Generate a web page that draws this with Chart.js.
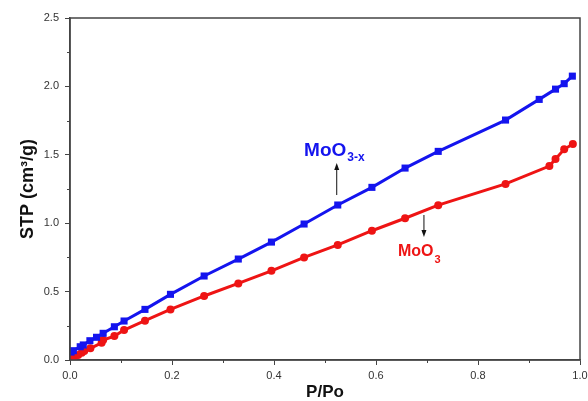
<!DOCTYPE html>
<html>
<head>
<meta charset="utf-8">
<script src="https://cdn.jsdelivr.net/npm/chart.js@4"></script>
<style>
  html, body { margin: 0; padding: 0; background: #fff; }
  #wrap { width: 588px; height: 401px; }
</style>
</head>
<body>
<div id="wrap"><canvas id="chart" width="588" height="401"></canvas></div>
<script>
// MoO3-x (blue squares)
const xBlue = [0.002, 0.0065, 0.02, 0.026, 0.039, 0.052, 0.065, 0.087, 0.106, 0.147, 0.197, 0.263, 0.33, 0.395, 0.459, 0.525, 0.592, 0.657, 0.722, 0.854, 0.92, 0.952, 0.969, 0.985]
const yBlue = [0.058, 0.068, 0.097, 0.11, 0.141, 0.166, 0.195, 0.243, 0.285, 0.37, 0.48, 0.614, 0.738, 0.862, 0.994, 1.133, 1.262, 1.403, 1.525, 1.754, 1.905, 1.98, 2.02, 2.075]

// MoO3 (red circles)
const xRed = [0.003, 0.008, 0.016, 0.023, 0.028, 0.04, 0.062, 0.065, 0.087, 0.106, 0.147, 0.197, 0.263, 0.33, 0.395, 0.459, 0.525, 0.592, 0.657, 0.722, 0.854, 0.94, 0.952, 0.969, 0.986]
const yRed = [0.015, 0.024, 0.037, 0.053, 0.066, 0.085, 0.126, 0.146, 0.175, 0.219, 0.287, 0.37, 0.468, 0.56, 0.652, 0.75, 0.841, 0.945, 1.036, 1.132, 1.287, 1.418, 1.47, 1.54, 1.579]

const xTicks = [0, 0.2, 0.4, 0.6, 0.8, 1.0]
const yTicks = [0, 0.5, 1.0, 1.5, 2.0, 2.5]
const xMinor = [0.1, 0.3, 0.5, 0.7, 0.9]
const yMinor = [0.25, 0.75, 1.25, 1.75, 2.25]

// label anchors in data units: [x, y]
const labelBlue = {text: 'MoO', sub: '3-x', at: [0.459, 1.49]}
const labelRed = {text: 'MoO', sub: '3', at: [0.643, 0.762]}
const arrowBlue = {x: 0.523, from: 1.206, to: 1.44}
const arrowRed = {x: 0.694, from: 1.06, to: 0.899}

const BLUE = '#1414ee'
const RED = '#ee1414'
const AXIS = '#444'

const toPoints = (xs, ys) => xs.map((x, i) => ({x: x, y: ys[i]}))

const frameAndExtras = {
    id: 'frameAndExtras',
    afterDatasetsDraw(chart) {
        const {ctx, chartArea: a, scales: {x, y}} = chart
        ctx.save()
        // box
        ctx.strokeStyle = AXIS
        ctx.lineWidth = 1.5
        ctx.strokeRect(a.left, a.top, a.right - a.left, a.bottom - a.top)
        // minor ticks
        ctx.lineWidth = 1
        ctx.beginPath()
        xMinor.forEach(v => {
            const px = Math.round(x.getPixelForValue(v)) + 0.5
            ctx.moveTo(px, a.bottom); ctx.lineTo(px, a.bottom + 3)
        })
        yMinor.forEach(v => {
            const py = Math.round(y.getPixelForValue(v)) + 0.5
            ctx.moveTo(a.left, py); ctx.lineTo(a.left - 3, py)
        })
        ctx.stroke()

        // arrows
        const arrow = (arr) => {
            const px = x.getPixelForValue(arr.x)
            const p0 = y.getPixelForValue(arr.from)
            const p1 = y.getPixelForValue(arr.to)
            const dir = p1 > p0 ? 1 : -1
            ctx.strokeStyle = '#111'
            ctx.fillStyle = '#111'
            ctx.lineWidth = 1
            ctx.beginPath()
            ctx.moveTo(px, p0); ctx.lineTo(px, p1 - dir * 5)
            ctx.stroke()
            ctx.beginPath()
            ctx.moveTo(px, p1)
            ctx.lineTo(px - 2.5, p1 - dir * 7)
            ctx.lineTo(px + 2.5, p1 - dir * 7)
            ctx.closePath()
            ctx.fill()
        }
        arrow(arrowBlue)
        arrow(arrowRed)

        // labels with subscripts
        const label = (lb, color, size, subSize, drop) => {
            const px = x.getPixelForValue(lb.at[0])
            const py = y.getPixelForValue(lb.at[1])
            ctx.fillStyle = color
            ctx.textBaseline = 'alphabetic'
            ctx.textAlign = 'left'
            ctx.font = `bold ${size}px "Liberation Sans", Arial, sans-serif`
            ctx.fillText(lb.text, px, py)
            const w = ctx.measureText(lb.text).width
            ctx.font = `bold ${subSize}px "Liberation Sans", Arial, sans-serif`
            ctx.fillText(lb.sub, px + w + 1, py + drop)
        }
        label(labelBlue, BLUE, 19, 12, 5)
        label(labelRed, RED, 16, 11, 7)
        ctx.restore()
    }
}

new Chart(document.getElementById('chart'), {
    type: 'scatter',
    data: {
        datasets: [
            {
                label: 'MoO3-x',
                data: toPoints(xBlue, yBlue),
                showLine: true,
                borderColor: BLUE,
                backgroundColor: BLUE,
                borderWidth: 3,
                pointStyle: 'rect',
                pointRadius: 5,
                pointBorderWidth: 0,
                tension: 0
            },
            {
                label: 'MoO3',
                data: toPoints(xRed, yRed),
                showLine: true,
                borderColor: RED,
                backgroundColor: RED,
                borderWidth: 3,
                pointStyle: 'circle',
                pointRadius: 4,
                pointBorderWidth: 0,
                tension: 0
            }
        ]
    },
    options: {
        responsive: false,
        animation: false,
        layout: {padding: {top: 18, right: 8, left: 0, bottom: 0}},
        plugins: {legend: {display: false}, tooltip: {enabled: false}},
        scales: {
            x: {
                type: 'linear',
                min: 0, max: 1,
                afterFit: s => { s.height = 41; s.paddingLeft = 0; s.paddingRight = 0 },
                afterBuildTicks: s => { s.ticks = xTicks.map(v => ({value: v})) },
                grid: {drawOnChartArea: false, tickLength: 5, tickColor: AXIS, tickWidth: 1},
                border: {color: AXIS, width: 1.5},
                ticks: {
                    padding: 4,
                    color: '#333',
                    font: {family: '"Liberation Sans", Arial, sans-serif', size: 11},
                    callback: v => v.toFixed(1),
                    maxRotation: 0
                },
                title: {
                    display: true,
                    text: 'P/Po',
                    color: '#111',
                    font: {family: '"Liberation Sans", Arial, sans-serif', size: 17, weight: 'bold', lineHeight: 1},
                    padding: {top: 0, bottom: 0}
                }
            },
            y: {
                type: 'linear',
                min: 0, max: 2.5,
                afterFit: s => { s.width = 70; s.paddingTop = 0; s.paddingBottom = 0 },
                afterBuildTicks: s => { s.ticks = yTicks.map(v => ({value: v})) },
                grid: {drawOnChartArea: false, tickLength: 5, tickColor: AXIS, tickWidth: 1},
                border: {color: AXIS, width: 1.5},
                ticks: {
                    padding: 6,
                    color: '#333',
                    font: {family: '"Liberation Sans", Arial, sans-serif', size: 11},
                    callback: v => v.toFixed(1)
                },
                title: {
                    display: true,
                    text: 'STP (cm³/g)',
                    color: '#111',
                    font: {family: '"Liberation Sans", Arial, sans-serif', size: 18, weight: 'bold', lineHeight: 1},
                    padding: {top: 19, bottom: 0}
                }
            }
        }
    },
    plugins: [frameAndExtras]
})
</script>
</body>
</html>
